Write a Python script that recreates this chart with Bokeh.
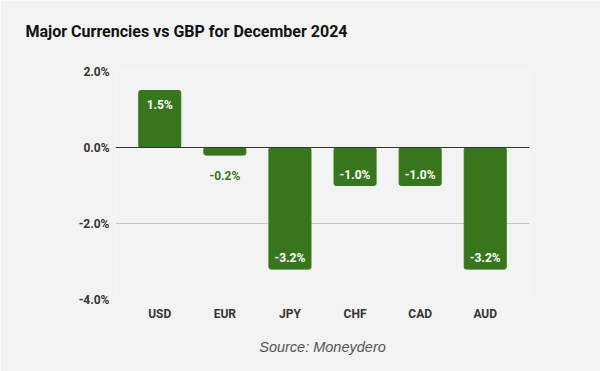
from bokeh.plotting import figure
from bokeh.models import (ColumnDataSource, Range1d, FixedTicker, Title, Span)
from bokeh.core.properties import value
from bokeh.embed import file_html
from bokeh.resources import INLINE

categories = ["USD", "EUR", "JPY", "CHF", "CAD", "AUD"]
changes = [1.5, -0.2, -3.2, -1.0, -1.0, -3.2]
y_ticks = [-4.0, -2.0, 0.0, 2.0]
title_text = "Major Currencies vs GBP for December 2024"
source_text = "Source: Moneydero"

BAR = "#38761d"
BG = "#f3f3f3"

xs = list(range(len(categories)))
inside = [abs(v) >= 0.5 for v in changes]
lab_text = [f"{v:.1f}%" for v in changes]
lab_color = ["#ffffff" if ins else BAR for ins in inside]
lab_off = []
for v, ins in zip(changes, inside):
    if v >= 0:
        lab_off.append(14 if ins else -14)
    else:
        lab_off.append(-11 if ins else 21)

src = ColumnDataSource(dict(x=xs, top=changes, txt=lab_text, col=lab_color, off=lab_off))

p = figure(width=600, height=371, output_backend="svg", toolbar_location=None,
           x_range=Range1d(-0.68, len(categories) - 1 + 0.68),
           y_range=Range1d(min(y_ticks), max(y_ticks)),
           min_border_left=115, min_border_right=71, min_border_top=71, min_border_bottom=72)
p.background_fill_color = BG
p.border_fill_color = BG
p.outline_line_color = None

p.vbar(x="x", top="top", bottom=0, width=0.646, source=src, color=BAR, border_radius=2)
p.add_layout(Span(location=0, dimension="width", line_color="#333333", line_width=1))

p.text(x="x", y="top", text="txt", text_color="col", y_offset="off", source=src,
       text_align="center", text_baseline="middle", text_font=value("Roboto"),
       text_font_style="bold", text_font_size="12px")

p.xgrid.visible = False
p.ygrid.grid_line_color = "#c4c4c4"
p.ygrid.ticker = FixedTicker(ticks=y_ticks)

p.yaxis.ticker = FixedTicker(ticks=y_ticks)
p.yaxis.major_label_overrides = {t: f"{t:.1f}%" for t in y_ticks}
p.xaxis.ticker = FixedTicker(ticks=xs)
p.xaxis.major_label_overrides = {i: c for i, c in enumerate(categories)}
for ax in (p.xaxis, p.yaxis):
    ax.axis_line_color = None
    ax.major_tick_line_color = None
    ax.minor_tick_line_color = None
    ax.major_tick_out = 0
    ax.major_tick_in = 0
    ax.minor_tick_out = 0
    ax.major_label_text_font = "Roboto"
    ax.major_label_text_font_style = "bold"
    ax.major_label_text_font_size = "12px"
    ax.major_label_text_color = "#333333"
p.yaxis.major_label_standoff = 6
p.xaxis.major_label_standoff = 7

# main title first; the later-added spacer is stacked between it and the frame
p.title = Title(text=title_text, align="left", offset=-90, standoff=0,
                vertical_align="bottom",
                text_font="Roboto", text_font_style="bold", text_font_size="16px",
                text_color="#111111")
p.add_layout(Title(text=" ", standoff=18, text_font_size="10px", text_color=BG), "above")
p.add_layout(Title(text=source_text, align="center", standoff=27,
                   text_font="Liberation Sans", text_font_style="italic",
                   text_font_size="14.5px", text_color="#555555"), "below")

open("out.html", "w").write(file_html(p, INLINE))
